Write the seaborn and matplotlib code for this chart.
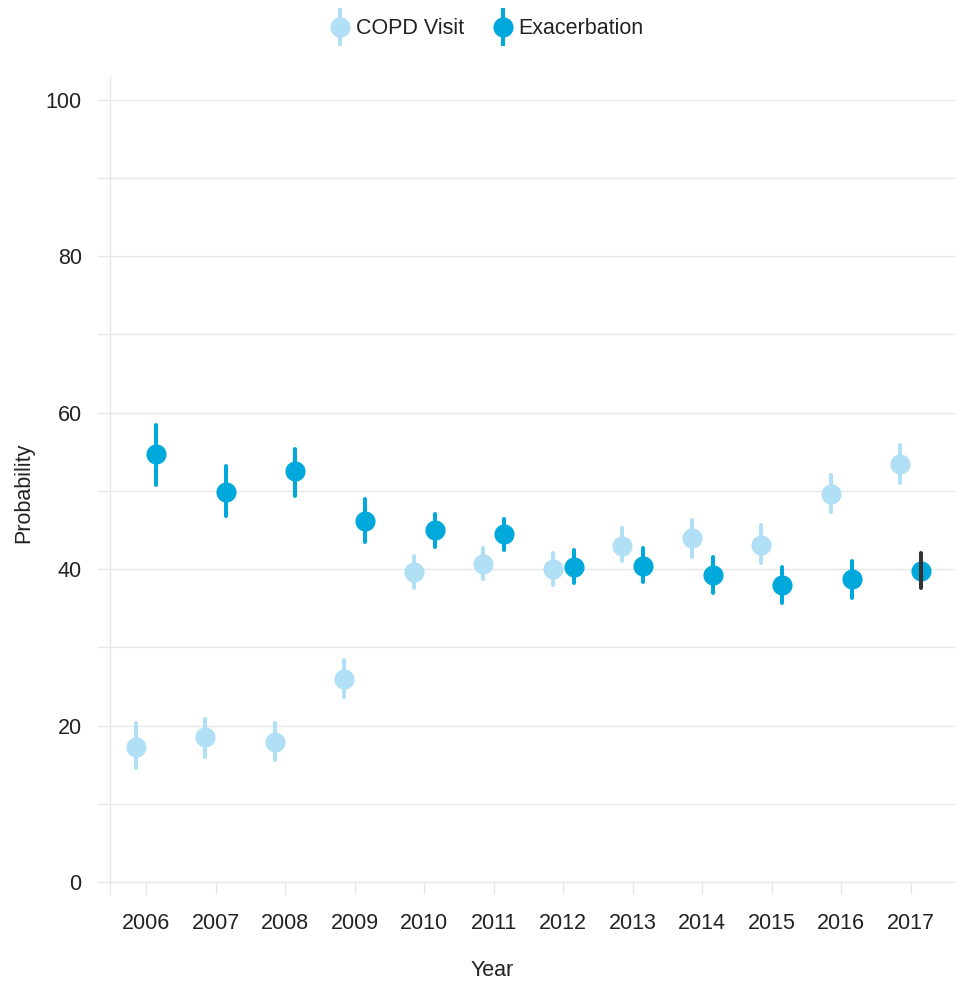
import matplotlib
matplotlib.use("Agg")
import matplotlib.pyplot as plt
from matplotlib.lines import Line2D
import numpy as np
import pandas as pd
import seaborn as sns

# Yearly probability estimates with their interval bounds
years = [2006, 2007, 2008, 2009, 2010, 2011, 2012, 2013, 2014, 2015, 2016, 2017]
series_names = ["COPD Visit", "Exacerbation"]

copd_prob = [17.2, 18.5, 17.9, 26.0, 39.6, 40.6, 40.0, 43.0, 44.0, 43.1, 49.6, 53.4]
copd_lower = [14.6, 16.0, 15.6, 23.6, 37.6, 38.7, 38.0, 41.0, 41.6, 40.8, 47.3, 51.0]
copd_upper = [20.3, 20.8, 20.3, 28.4, 41.7, 42.7, 42.1, 45.3, 46.3, 45.6, 52.0, 55.8]

exac_prob = [54.7, 49.9, 52.5, 46.2, 45.0, 44.5, 40.3, 40.4, 39.3, 38.0, 38.7, 39.8]
exac_lower = [50.8, 46.8, 49.3, 43.5, 42.8, 42.4, 38.2, 38.3, 36.9, 35.7, 36.3, 37.6]
exac_upper = [58.4, 53.2, 55.3, 48.9, 47.0, 46.4, 42.5, 42.7, 41.5, 40.3, 41.0, 42.1]

y_ticks = [0, 10, 20, 30, 40, 50, 60, 70, 80, 90, 100]
y_tick_labels = ["0", "", "20", "", "40", "", "60", "", "80", "", "100"]

colors = {"COPD Visit": "#b1dff5", "Exacerbation": "#00a8dc"}
grid_color = "#e6e6e6"
text_color = "#222222"

# Long table: lower / estimate / upper per year so that the median is the
# estimate and the full percentile interval spans the bounds.
rows = []
for name, est, lo, hi in [
    ("COPD Visit", copd_prob, copd_lower, copd_upper),
    ("Exacerbation", exac_prob, exac_lower, exac_upper),
]:
    for yr, e, l, h in zip(years, est, lo, hi):
        for v in (l, e, h):
            rows.append({"Year": str(yr), "Series": name, "Probability": v})
df = pd.DataFrame(rows)

sns.set_style("white")
plt.rcParams["font.family"] = ["Liberation Sans", "DejaVu Sans"]

W, H = 956, 984
fig = plt.figure(figsize=(W / 100, H / 100), dpi=100)
ax = fig.add_axes([110 / W, 1 - 894 / H, 1 - 110 / W, (894 - 77) / H])

sns.pointplot(
    data=df, x="Year", y="Probability", hue="Series",
    order=[str(y) for y in years], hue_order=series_names,
    palette=colors, estimator="median", errorbar=("pi", 100),
    dodge=0.3, linestyle="none", markers="o",
    markersize=14.5, markeredgewidth=0,
    err_kws={"linewidth": 2.9}, legend=False, ax=ax,
)

# Highlight the interval of the most recent exacerbation estimate
for line in ax.lines:
    yd = np.asarray(line.get_ydata(), float)
    if yd.size == 2 and np.allclose(np.sort(yd), [exac_lower[-1], exac_upper[-1]]):
        line.set_color("#333333")
        line.set_zorder(6)

ax.set_xlim(-0.518, 11.65)
ax.set_ylim(-1.53, 102.9)

for side in ("top", "right", "bottom"):
    ax.spines[side].set_visible(False)
ax.spines["left"].set_color(grid_color)
ax.spines["left"].set_linewidth(1)

ax.set_yticks(y_ticks)
ax.set_yticklabels(y_tick_labels)
ax.yaxis.grid(True, color=grid_color, linewidth=1)
ax.xaxis.grid(False)
ax.set_axisbelow(True)

ax.tick_params(axis="y", direction="out", length=9.4, width=1, color=grid_color,
               pad=11, labelsize=15.5, labelcolor=text_color, left=True)
ax.tick_params(axis="x", direction="in", length=8.6, width=1, color=grid_color,
               pad=14, labelsize=15.5, labelcolor=text_color, bottom=True)

ax.set_xlabel("Year", fontsize=15.5, color=text_color)
ax.set_ylabel("Probability", fontsize=15.5, color=text_color)
ax.xaxis.set_label_coords((492 - 110) / 846, -(960 - 894) / 817)
ax.yaxis.set_label_coords((34 - 110) / 846, (894 - 493) / 817)

handles = []
for name in series_names:
    bar = Line2D([], [], marker="|", markersize=27, markeredgewidth=2.9,
                 color=colors[name], linestyle="none")
    dot = Line2D([], [], marker="o", markersize=14.5, markeredgewidth=0,
                 color=colors[name], linestyle="none")
    handles.append((bar, dot))

fig.legend(handles, series_names, loc="center", bbox_to_anchor=(0.509, 1 - 29 / H),
           ncol=2, frameon=False, fontsize=15.5, handlelength=1.0,
           handletextpad=0.22, columnspacing=1.3, labelcolor=text_color)

fig.savefig("out.png", dpi=100)
